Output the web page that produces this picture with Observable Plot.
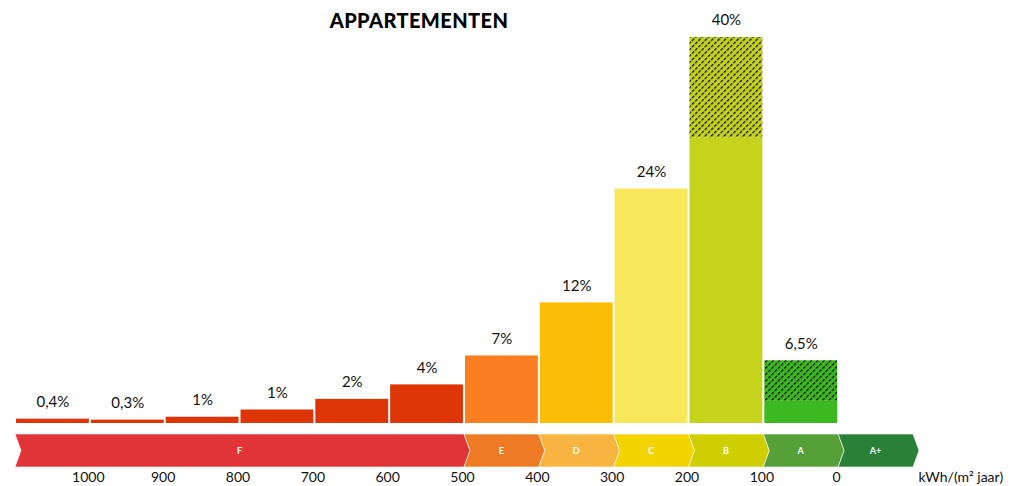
<!DOCTYPE html>
<html>
<head>
<meta charset="utf-8">
<script src="https://cdn.jsdelivr.net/npm/d3@7"></script>
<script src="https://cdn.jsdelivr.net/npm/@observablehq/plot@0.6"></script>
<style>
  html, body { margin: 0; padding: 0; background: #fff; }
  #wrap { position: relative; width: 1011px; height: 486px; font-family: Lato, "Open Sans", sans-serif; }
  #title { position: absolute; left: 0; top: 8px; width: 838px; text-align: center; font-size: 20px; font-weight: 900; letter-spacing: 0.4px; color: #000; }
  #chart { position: absolute; left: 0; top: 0; }
</style>
</head>
<body>
<div id="wrap">
  <div id="chart"></div>
  <div id="title">APPARTEMENTEN</div>
</div>
<script>
// ---- data ----
const binStart = [1100, 1000, 900, 800, 700, 600, 500, 400, 300, 200, 100];
const binEnd   = [1000, 900, 800, 700, 600, 500, 400, 300, 200, 100, 0];
const shares   = [0.45, 0.35, 0.65, 1.4, 2.5, 4.0, 7.0, 12.5, 24.3, 40, 6.5];
const shareLabels = ["0,4%", "0,3%", "1%", "1%", "2%", "4%", "7%", "12%", "24%", "40%", "6,5%"];
const barColors = ["#dd3506", "#dd3506", "#dd3506", "#dd3506", "#dd3506", "#dd3506", "#fb7e20", "#f9be05", "#f9e75b", "#c5d31d", "#3cb820"];
// portion of bar below the hatched part (null = no hatching)
const hatchFrom = [null, null, null, null, null, null, null, null, null, 29.6, 2.3];

const classNames  = ["F", "E", "D", "C", "B", "A", "A+"];
const classStart  = [1100, 500, 400, 300, 200, 100, 0];
const classEnd    = [500, 400, 300, 200, 100, 0, -100];
const classColors = ["#e03437", "#ee7b23", "#f8b440", "#f3d300", "#cfcf00", "#56a038", "#2b8038"];

const tickValues = [1000, 900, 800, 700, 600, 500, 400, 300, 200, 100, 0];
const unitLabel = "kWh/(m² jaar)";

// ---- tables ----
const bars = shares.map((v, i) => ({x1: binStart[i], x2: binEnd[i], y: v, solidTop: hatchFrom[i] == null ? v : hatchFrom[i], color: barColors[i], label: shareLabels[i], hatched: hatchFrom[i] != null, pat: i}));
const classes = classNames.map((n, i) => ({name: n, x1: classStart[i], x2: classEnd[i], color: classColors[i]}));

const font = "Lato, 'Open Sans', sans-serif";

// custom mark: chevron band under the bars, positioned with the x scale
function bandMark(index, scales) {
  const x = scales.x, y = scales.y;
  const g = d3.create("svg:g");
  const base = y(0);
  const top = base + 11, bot = base + 44, mid = (top + bot) / 2, tip = 6;
  for (const c of classes) {
    const a = x(c.x1), b = x(c.x2);
    const pts = [[a, top], [b, top], [b + tip, mid], [b, bot], [a, bot], [a + tip, mid]];
    g.append("path")
      .attr("d", "M" + pts.map(p => p.join(",")).join("L") + "Z")
      .attr("fill", c.color)
      .attr("stroke", "#ffffff")
      .attr("stroke-opacity", 0.6)
      .attr("stroke-width", 1);
    g.append("text")
      .attr("x", (a + b) / 2)
      .attr("y", mid)
      .attr("dy", "0.35em")
      .attr("text-anchor", "middle")
      .attr("fill", "#fff")
      .attr("font-size", 9)
      .attr("font-weight", 700)
      .attr("font-family", font)
      .text(c.name);
  }
  return g.node();
}

const chart = Plot.plot({
  width: 1011,
  height: 486,
  marginTop: 37,
  marginBottom: 63,
  marginLeft: 15,
  marginRight: 98,
  style: {fontFamily: font, background: "transparent"},
  x: {domain: [1100, -100], axis: null},
  y: {domain: [0, 40], axis: null},
  marks: [
    Plot.rect(bars, {x1: "x1", x2: "x2", y1: 0, y2: "solidTop", fill: "color", insetLeft: 1, insetRight: 1}),
    Plot.rect(bars.filter(d => d.hatched), {x1: "x1", x2: "x2", y1: "solidTop", y2: "y", fill: d => `url(#hatch${d.pat})`, insetLeft: 1, insetRight: 1}),
    Plot.text(bars, {x: d => (d.x1 + d.x2) / 2, y: "y", text: "label", dy: -17, fontSize: 15, fill: "#111", lineAnchor: "middle"}),
    bandMark,
    Plot.text(tickValues, {x: d => d, frameAnchor: "bottom", dx: -2, dy: 54, text: d => String(d), fontSize: 14, fill: "#111", lineAnchor: "middle"}),
    Plot.text([unitLabel], {frameAnchor: "bottom-right", textAnchor: "start", dx: 5, dy: 54, text: d => d, fontSize: 14, fill: "#111", lineAnchor: "middle"})
  ]
});

// hatch patterns (colors from the bar table)
const defs = d3.select(chart).insert("defs", ":first-child");
bars.filter(d => d.hatched).forEach(d => {
  const p = defs.append("pattern")
    .attr("id", `hatch${d.pat}`)
    .attr("patternUnits", "userSpaceOnUse")
    .attr("width", 4.5).attr("height", 4.5)
    .attr("patternTransform", "rotate(45)");
  p.append("rect").attr("width", 4.5).attr("height", 4.5).attr("fill", d.color);
  p.append("line").attr("x1", 0).attr("y1", 0).attr("x2", 0).attr("y2", 4.5)
    .attr("stroke", "#111").attr("stroke-width", 2.6).attr("stroke-dasharray", "3.2 1.3");
});

document.getElementById("chart").appendChild(chart);
</script>
</body>
</html>
